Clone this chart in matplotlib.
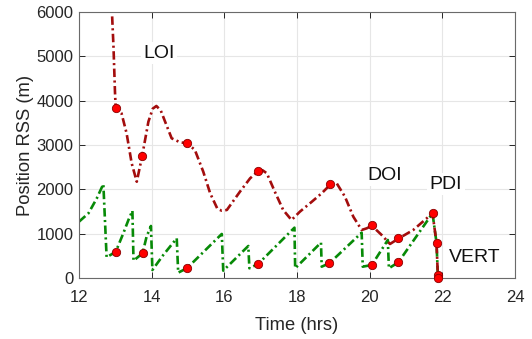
# -*- coding: utf-8 -*-
import numpy as np
import matplotlib
matplotlib.use('Agg')
import matplotlib.pyplot as plt

plt.rcParams['font.family'] = ['Liberation Sans', 'DejaVu Sans']

# position RSS along the trajectory (red) and green series
t_red = [12.88, 12.95, 12.99, 13.01, 13.17, 13.31, 13.45, 13.59, 13.74, 13.91,
         14.03, 14.13, 14.25, 14.37, 14.55, 14.78, 14.98, 15.19, 15.42, 15.61,
         15.81, 15.93, 16.07, 16.43, 16.71, 16.94, 17.05, 17.17, 17.39, 17.62,
         17.85, 18.08, 18.41, 18.68, 18.91, 19.09, 19.32, 19.55, 19.78, 19.92,
         20.06, 20.33, 20.56, 20.79, 21.20, 21.73, 21.84, 21.88]
rss_red = [6500, 5200, 4200, 3840, 3715, 3264, 2587, 2172, 2759, 3526,
           3820, 3880, 3780, 3526, 3151, 3061, 3038, 2887, 2398, 1911,
           1560, 1518, 1534, 1947, 2249, 2414, 2430, 2362, 1947, 1534,
           1308, 1496, 1721, 1911, 2100, 2140, 1834, 1383, 1083, 1120,
           1180, 970, 767, 887, 1083, 1459, 797, 0]

t_green = [12.00, 12.26, 12.49, 12.67, 12.76, 13.01, 13.22, 13.36, 13.47, 13.50,
           13.75, 13.86, 13.98, 14.02, 14.32, 14.69, 14.73, 14.97, 15.93, 15.97,
           16.66, 16.69, 16.93, 17.93, 17.95, 18.66, 18.68, 18.89, 19.78, 19.81,
           20.06, 20.50, 20.53, 20.79, 21.73, 21.84, 21.88]
rss_green = [1270, 1459, 1797, 2120, 467, 590, 1008, 1308, 1518, 390,
             557, 932, 1173, 180, 519, 895, 120, 219, 993, 165,
             722, 219, 316, 1135, 219, 797, 255, 331, 1022, 255,
             293, 857, 219, 354, 1459, 797, 0]

# event markers
t_ev_red = [13.01, 13.74, 14.98, 16.94, 18.91, 20.06, 20.79, 21.73, 21.84, 21.87, 21.88]
rss_ev_red = [3840, 2759, 3038, 2414, 2110, 1190, 895, 1465, 800, 60, 0]
t_ev_green = [13.01, 13.75, 14.97, 16.93, 18.89, 20.06, 20.79]
rss_ev_green = [593, 557, 219, 316, 331, 293, 354]

labels = ['LOI', 'DOI', 'PDI', 'VERT']
label_t = [14.2, 20.42, 22.09, 22.9]
label_rss = [5075, 2323, 2120, 467]

fig = plt.figure(figsize=(5.32, 3.39), dpi=100)
ax = fig.add_axes([0.1485, 0.180, 0.8195, 0.7846])

ax.grid(True, color='#e6e6e6', linewidth=0.8)
ax.set_axisbelow(True)

lg, = ax.plot(t_green, rss_green, '-.', color='#078a07', lw=1.9)
lg.set_dashes((3.2, 1.3, 0.8, 1.3))
lr, = ax.plot(t_red, rss_red, '-.', color='#a30d0d', lw=1.9)
lr.set_dashes((3.2, 1.3, 0.8, 1.3))

ax.plot(t_ev_green, rss_ev_green, 'o', ms=6, mfc='#ff0000', mec='#8a0000', mew=0.6, ls='none')
ax.plot(t_ev_red, rss_ev_red, 'o', ms=6, mfc='#ff0000', mec='#8a0000', mew=0.6, ls='none',
        clip_on=False, zorder=5)

for s, x, y in zip(labels, label_t, label_rss):
    ax.text(x, y, s, fontsize=14, ha='center', va='center', color='#111111',
            bbox=dict(facecolor='white', edgecolor='none', pad=2))

ax.set_xlim(12, 24)
ax.set_ylim(0, 6000)
ax.set_xticks(np.arange(12, 25, 2))
ax.set_yticks(np.arange(0, 6001, 1000))
ax.tick_params(direction='in', top=True, right=True, labelsize=12,
               colors='#262626', length=4, width=0.7)
ax.tick_params(axis='x', pad=9)
ax.tick_params(axis='y', pad=4)
for sp in ax.spines.values():
    sp.set_color('#6a6a6a')
    sp.set_linewidth(0.8)

ax.set_xlabel('Time (hrs)', fontsize=13.2, color='#262626', labelpad=8)
ax.set_ylabel('Position RSS (m)', fontsize=13.2, color='#262626', labelpad=2)

plt.savefig('out.png', dpi=100)
